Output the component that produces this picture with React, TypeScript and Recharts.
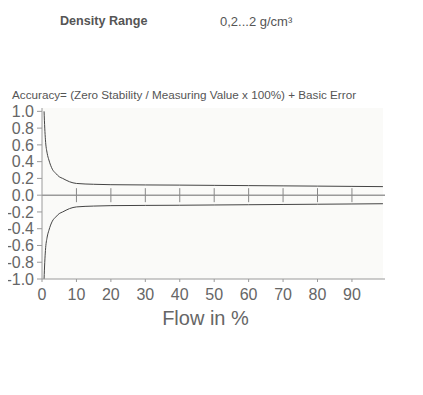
import React from 'react';
import {
  ComposedChart,
  Line,
  Scatter,
  XAxis,
  YAxis,
  ReferenceArea,
  ReferenceLine,
  Label,
} from 'recharts';

// flow in %, and the upper / lower accuracy envelope
const flow = [0.6, 0.8, 1, 1.5, 2, 3, 4, 5, 6, 8, 10, 15, 20, 30, 40, 50, 60, 70, 80, 90, 99];
const upper = [1.0, 0.8, 0.66, 0.5, 0.42, 0.31, 0.26, 0.22, 0.2, 0.16, 0.14, 0.13, 0.125, 0.122, 0.12, 0.117, 0.114, 0.111, 0.108, 0.105, 0.102];
const lower = [-1.0, -0.8, -0.66, -0.5, -0.42, -0.31, -0.26, -0.22, -0.2, -0.16, -0.14, -0.13, -0.125, -0.122, -0.12, -0.117, -0.114, -0.111, -0.108, -0.105, -0.102];

const xTicks = [0, 10, 20, 30, 40, 50, 60, 70, 80, 90];
const yTicks = [-1, -0.8, -0.6, -0.4, -0.2, 0, 0.2, 0.4, 0.6, 0.8, 1];
const zeroMarks = [10, 20, 30, 40, 50, 60, 70, 80, 90];

const rows = flow.map((f, i) => ({ flow: f, upper: upper[i], lower: lower[i] }));
const markRows = zeroMarks.map((f) => ({ flow: f, y: 0 }));

const axisColor = '#9a9a9a';
const textColor = '#666';
const font = 'Arial, "Liberation Sans", sans-serif';

const ZeroMark = (props: any) => {
  const { cx, cy } = props;
  return <line x1={cx} x2={cx} y1={cy - 7} y2={cy + 7} stroke="#888" strokeWidth={1} />;
};

const FlowLabel = ({ viewBox }: any) => {
  const { x, y, width, height } = viewBox;
  return (
    <text x={x + width / 2 - 8} y={y + height + 16} textAnchor="middle" fill={textColor} fontSize={20} fontFamily={font}>
      Flow in %
    </text>
  );
};

export default function App() {
  return (
    <div style={{ position: 'relative', margin: '-8px 0 0 -8px', width: 423, height: 395, background: '#fff', fontFamily: font }}>
      <div style={{ position: 'absolute', left: 60, top: 14, fontSize: 12.6, fontWeight: 'bold', color: '#555' }}>Density Range</div>
      <div style={{ position: 'absolute', left: 220, top: 14, fontSize: 13, color: '#555' }}>0,2...2 g/cm³</div>
      <div style={{ position: 'absolute', left: 12, top: 88, fontSize: 11.7, color: '#555' }}>
        Accuracy= (Zero Stability / Measuring Value x 100%) + Basic Error
      </div>
      <div style={{ position: 'absolute', left: 0, top: 0 }}>
        <ComposedChart width={423} height={395} data={rows} margin={{ top: 108, right: 38, bottom: 86, left: 0 }}>
          <XAxis
            dataKey="flow"
            type="number"
            domain={[0, 99.6]}
            ticks={xTicks}
            allowDataOverflow
            height={30}
            stroke={axisColor}
            tickSize={3}
            tickMargin={7}
            tick={{ fill: textColor, fontSize: 16, fontFamily: font }}
          >
            <Label content={<FlowLabel />} />
          </XAxis>
          <YAxis
            type="number"
            domain={[-1, 1.04]}
            ticks={yTicks}
            allowDataOverflow
            width={42}
            stroke={axisColor}
            tickSize={5}
            tickMargin={3}
            interval={0}
            tickFormatter={(v: number) => v.toFixed(1)}
            tick={{ fill: textColor, fontSize: 16, fontFamily: font }}
          />
          <ReferenceArea x1={0} x2={99} y1={-1} y2={1.04} fill="#fafaf8" fillOpacity={1} stroke="none" />
          <ReferenceLine y={0} stroke={axisColor} strokeWidth={1.5} />
          <Line dataKey="upper" type="monotone" stroke="#444" strokeWidth={1} dot={false} isAnimationActive={false} />
          <Line dataKey="lower" type="monotone" stroke="#444" strokeWidth={1} dot={false} isAnimationActive={false} />
          <Scatter data={markRows} dataKey="y" shape={<ZeroMark />} isAnimationActive={false} />
        </ComposedChart>
      </div>
    </div>
  );
}
